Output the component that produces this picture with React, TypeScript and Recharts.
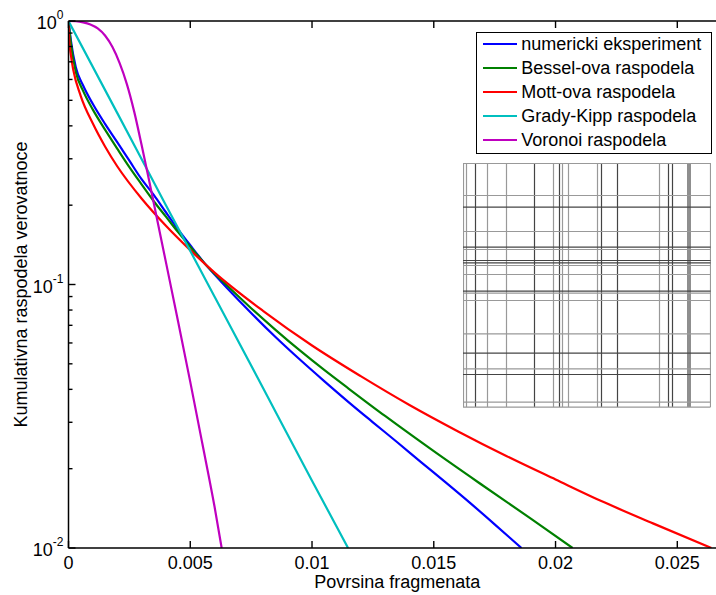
import { LineChart, Line, XAxis, YAxis } from "recharts";

const FONT = '"Liberation Sans", Arial, Helvetica, sans-serif';

// x ticks (Povrsina fragmenata) and log y ticks
const xTicks = [0, 0.005, 0.01, 0.015, 0.02, 0.025];
const yTicks = [
  0.01, 0.02, 0.03, 0.04, 0.05, 0.06, 0.07, 0.08, 0.09,
  0.1, 0.2, 0.3, 0.4, 0.5, 0.6, 0.7, 0.8, 0.9, 1,
];

// numericki eksperiment
const numX = [0, 0.0001, 0.0003, 0.0006, 0.001, 0.0015, 0.002, 0.0025, 0.003, 0.0035, 0.004, 0.0045, 0.005, 0.0056, 0.0065, 0.0075, 0.0085, 0.0095,
  0.0105, 0.0115, 0.0125, 0.0135, 0.0145, 0.0155, 0.0165, 0.0175, 0.0186];
const numY = [1, 0.841, 0.668, 0.569, 0.484, 0.407, 0.347, 0.295, 0.251, 0.219, 0.188, 0.162, 0.141, 0.12, 0.0973, 0.078, 0.0632, 0.0519,
  0.043, 0.0358, 0.03, 0.0252, 0.0211, 0.0177, 0.0148, 0.0123, 0.01];

// Bessel-ova raspodela
const besselX = [0, 0.0001, 0.0003, 0.0006, 0.001, 0.0015, 0.002, 0.0025, 0.003, 0.0035, 0.004, 0.0045, 0.005, 0.0056, 0.0065, 0.0075, 0.0085, 0.0095, 0.0105, 0.0115, 0.013, 0.015, 0.017, 0.019, 0.0207];
const besselY = [1, 0.818, 0.64, 0.543, 0.461, 0.387, 0.328, 0.279, 0.24, 0.207, 0.181, 0.158, 0.139, 0.12, 0.0993, 0.0813, 0.0673, 0.0562, 0.0474, 0.0403, 0.0317, 0.0233, 0.0173, 0.0129, 0.01];

// Mott-ova raspodela
const mottX = [0, 0.00003, 0.0001, 0.0002, 0.0005, 0.001, 0.0015, 0.002, 0.003, 0.004, 0.005, 0.006, 0.008, 0.01, 0.012, 0.014, 0.016, 0.018, 0.02, 0.022, 0.024, 0.0264];
const mottY = [1, 0.85, 0.74, 0.65, 0.52, 0.408, 0.334, 0.281, 0.212, 0.167, 0.135, 0.111, 0.0793, 0.0587, 0.0449, 0.0349, 0.0277, 0.0223, 0.0182, 0.0149, 0.0124, 0.01];

// Grady-Kipp raspodela
const gradyX = [0, 0.002, 0.004, 0.006, 0.008, 0.01, 0.01148];
const gradyY = [1, 0.448, 0.2, 0.0899, 0.0403, 0.018, 0.01];

// Voronoi raspodela
const voronoiX = [0, 0.0003, 0.0006, 0.0009, 0.0012, 0.0015, 0.0018, 0.0021, 0.0024, 0.0027, 0.003, 0.0033, 0.0036, 0.004, 0.0045, 0.005, 0.0055, 0.006, 0.00629];
const voronoiY = [1, 0.9977, 0.9886, 0.9705, 0.9376, 0.881, 0.798, 0.692, 0.575, 0.452, 0.339, 0.251, 0.184, 0.1216, 0.0724, 0.0427, 0.0248, 0.0143, 0.01];

const toPoints = (xs: number[], ys: number[]) => xs.map((x, i) => ({ x, y: ys[i] }));

const series = [
  { name: "numericki eksperiment", color: "#0000ff", data: toPoints(numX, numY) },
  { name: "Bessel-ova raspodela", color: "#008000", data: toPoints(besselX, besselY) },
  { name: "Mott-ova raspodela", color: "#ff0000", data: toPoints(mottX, mottY) },
  { name: "Grady-Kipp raspodela", color: "#00bfbf", data: toPoints(gradyX, gradyY) },
  { name: "Voronoi raspodela", color: "#bf00bf", data: toPoints(voronoiX, voronoiY) },
];

// fragment pattern inset (offsets inside the little picture, px)
const insetV = [0, 3, 12, 24, 43, 71, 90, 96, 99, 105, 134, 138, 154, 196, 205, 209, 224.5, 226.5, 247];
const insetVDark = [12, 71, 96, 138, 154, 205, 209, 224.5, 226.5];
const insetH = [0, 32, 43.7, 68, 83.7, 86, 97, 99.3, 102, 111, 127.7, 129.7, 137, 170.3, 189.7, 205.3, 211, 238.7, 243.7];
const insetHDark = [43.7, 83.7, 97, 99.3, 127.7, 189.7, 211];

const XTick = (props: any) => {
  const { x, y, payload } = props;
  return (
    <g>
      <line x1={x} y1={y} x2={x} y2={y - 7} stroke="#000" strokeWidth={1.4} />
      <text x={x} y={y + 21} textAnchor="middle" fontSize={18} fontFamily={FONT} fill="#000">
        {String(payload.value)}
      </text>
    </g>
  );
};

const TopTick = (props: any) => {
  const { x, y } = props;
  return <line x1={x} y1={y} x2={x} y2={y + 7} stroke="#000" strokeWidth={1.4} />;
};

const YTick = (props: any) => {
  const { x, y, payload } = props;
  const lg = Math.log10(payload.value);
  const exp = Math.round(lg);
  const major = Math.abs(lg - exp) < 1e-6;
  return (
    <g>
      <line x1={x} y1={y} x2={x + (major ? 7 : 4)} y2={y} stroke="#000" strokeWidth={1.4} />
      {major && (
        <text x={x - 5} y={y + 8} textAnchor="end" fontSize={18} fontFamily={FONT} fill="#000">
          <tspan>10</tspan>
          <tspan dy={-10} fontSize={12}>{String(exp)}</tspan>
        </text>
      )}
    </g>
  );
};

export default function App() {
  return (
    <div style={{ position: "absolute", left: 0, top: 0, width: 716, height: 595, overflow: "hidden", background: "#fff" }}>
      <LineChart width={726} height={595} margin={{ top: 1, right: 0, left: 0, bottom: 0 }}>
        <XAxis
          xAxisId="top"
          orientation="top"
          type="number"
          dataKey="x"
          domain={[0, 0.027]}
          allowDataOverflow
          ticks={xTicks}
          interval={0}
          height={20}
          tickSize={0}
          tickMargin={0}
          tick={<TopTick />}
          axisLine={{ stroke: "#000", strokeWidth: 1.5 }}
          tickLine={false}
        />
        <XAxis
          type="number"
          dataKey="x"
          domain={[0, 0.027]}
          allowDataOverflow
          ticks={xTicks}
          interval={0}
          height={47}
          tickSize={0}
          tickMargin={0}
          tick={<XTick />}
          tickLine={false}
          axisLine={{ stroke: "#000", strokeWidth: 1.5 }}
          label={(p: any) => {
            const vb = p.viewBox;
            return (
              <text x={vb.x + vb.width / 2} y={vb.y + 40} textAnchor="middle" fontSize={18} fontFamily={FONT} fill="#000">
                Povrsina fragmenata
              </text>
            );
          }}
        />
        <YAxis
          type="number"
          scale="log"
          domain={[0.01, 1]}
          allowDataOverflow
          ticks={yTicks}
          interval={0}
          width={68.5}
          tickSize={0}
          tickMargin={0}
          tick={<YTick />}
          tickLine={false}
          axisLine={{ stroke: "#000", strokeWidth: 1.5 }}
          label={(p: any) => {
            const vb = p.viewBox;
            const cx = vb.x + 21;
            const cy = vb.y + vb.height / 2;
            return (
              <text x={cx} y={cy} transform={`rotate(-90 ${cx} ${cy})`} textAnchor="middle" dominantBaseline="central" fontSize={18} fontFamily={FONT} fill="#000">
                Kumulativna raspodela verovatnoce
              </text>
            );
          }}
        />
        {series.map((s) => (
          <Line
            key={s.name}
            data={s.data}
            dataKey="y"
            name={s.name}
            type="monotone"
            stroke={s.color}
            strokeWidth={2.2}
            dot={false}
            isAnimationActive={false}
          />
        ))}
      </LineChart>

      <div
        style={{
          position: "absolute",
          left: 476,
          top: 32,
          width: 236,
          height: 122,
          border: "1.5px solid #000",
          boxSizing: "border-box",
          background: "#fff",
          fontFamily: FONT,
          fontSize: 18,
        }}
      >
        {series.map((s, i) => (
          <div
            key={s.name}
            style={{ position: "absolute", left: 5.8, top: 12.3 + i * 24.1 - 1.5 - 11, height: 22, display: "flex", alignItems: "center", whiteSpace: "nowrap" }}
          >
            <span style={{ display: "inline-block", width: 34, height: 0, borderTop: `2.2px solid ${s.color}` }} />
            <span style={{ marginLeft: 4.4, lineHeight: "22px", color: "#000" }}>{s.name}</span>
          </div>
        ))}
      </div>

      <svg style={{ position: "absolute", left: 463, top: 163 }} width={248} height={245}>
        {insetV.map((v) => (
          <line key={"v" + v} x1={v + 0.5} y1={0} x2={v + 0.5} y2={244} stroke={insetVDark.includes(v) ? "#444" : "#999"} strokeWidth={1.2} />
        ))}
        {insetH.map((h) => (
          <line key={"h" + h} x1={0} y1={h + 0.5} x2={247.5} y2={h + 0.5} stroke={insetHDark.includes(h) ? "#444" : "#999"} strokeWidth={1.2} />
        ))}
      </svg>
    </div>
  );
}
